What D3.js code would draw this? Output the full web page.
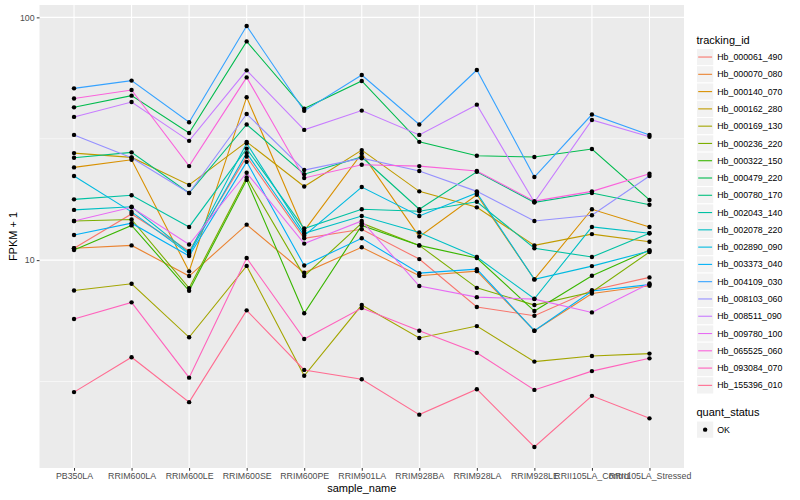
<!DOCTYPE html>
<html><head><meta charset="utf-8">
<script src="https://cdn.jsdelivr.net/npm/d3@7"></script>
<style>
body{margin:0;background:#fff}
svg{display:block}
text{font-family:"Liberation Sans",Arial,Helvetica,sans-serif}
</style>
</head><body>
<svg id="chart" width="800" height="500"></svg>
<script>
// ---- data ----
const categories = ["PB350LA","RRIM600LA","RRIM600LE","RRIM600SE","RRIM600PE","RRIM901LA","RRIM928BA","RRIM928LA","RRIM928LE","RRII105LA_Control","RRII105LA_Stressed"];
const trackingIds = ["Hb_000061_490","Hb_000070_080","Hb_000140_070","Hb_000162_280","Hb_000169_130","Hb_000236_220","Hb_000322_150","Hb_000479_220","Hb_000780_170","Hb_002043_140","Hb_002078_220","Hb_002890_090","Hb_003373_040","Hb_004109_030","Hb_008103_060","Hb_008511_090","Hb_009780_100","Hb_065525_060","Hb_093084_070","Hb_155396_010"];
const hb_000061_490 = [11.2, 15.5, 10.9, 26.7, 12.3, 13.4, 10.1, 6.41, 5.90, 7.52, 8.49];
const hb_000070_080 = [11.2, 11.5, 8.60, 14.0, 8.87, 11.3, 8.62, 9.01, 5.12, 7.29, 7.84];
const hb_000140_070 = [24.1, 25.9, 8.99, 46.9, 13.2, 27.5, 12.5, 18.6, 8.33, 16.2, 13.7];
const hb_000162_280 = [27.6, 26.5, 20.4, 30.7, 20.1, 28.4, 19.2, 16.5, 11.5, 12.8, 11.9];
const hb_000169_130 = [7.50, 7.99, 4.81, 9.47, 3.34, 6.53, 4.78, 5.35, 3.82, 4.03, 4.12];
const hb_000236_220 = [14.5, 14.7, 7.67, 21.9, 8.60, 14.2, 11.5, 7.69, 6.53, 7.39, 10.8];
const hb_000322_150 = [11.0, 13.9, 7.48, 21.4, 6.04, 13.9, 11.5, 10.2, 6.17, 8.62, 11.0];
const hb_000479_220 = [42.6, 47.6, 33.4, 79.6, 42.1, 54.7, 30.7, 26.9, 26.6, 28.7, 17.7];
const hb_000780_170 = [26.4, 27.8, 18.9, 36.2, 22.6, 26.6, 16.2, 23.1, 17.3, 18.9, 16.9];
const hb_002043_140 = [17.8, 18.5, 13.7, 28.8, 13.5, 16.2, 15.9, 17.4, 11.2, 10.3, 12.9];
const hb_002078_220 = [16.1, 16.6, 10.7, 30.3, 12.9, 15.2, 13.0, 10.3, 6.93, 13.7, 12.9];
const hb_002890_090 = [22.2, 15.8, 10.6, 27.6, 12.6, 20.0, 15.2, 18.9, 8.33, 9.45, 10.9];
const hb_003373_040 = [12.7, 14.2, 10.4, 25.4, 9.51, 12.3, 8.84, 9.18, 5.12, 7.46, 7.93];
const hb_004109_030 = [51.0, 54.9, 37.0, 92.1, 41.2, 57.9, 36.2, 60.7, 22.0, 39.8, 32.8];
const hb_008103_060 = [32.8, 26.4, 18.9, 40.0, 23.5, 26.3, 23.3, 19.2, 14.5, 15.3, 22.2];
const hb_008511_090 = [38.9, 44.8, 31.0, 60.5, 34.4, 41.3, 32.8, 43.7, 17.3, 37.8, 32.2];
const hb_009780_100 = [14.5, 16.5, 11.6, 22.9, 11.7, 14.5, 7.82, 7.04, 6.91, 6.09, 8.02];
const hb_065525_060 = [46.3, 50.2, 24.4, 56.6, 21.8, 24.7, 24.4, 23.3, 17.5, 19.2, 22.7];
const hb_093084_070 = [5.72, 6.70, 3.28, 10.2, 4.73, 6.35, 5.12, 4.15, 2.92, 3.49, 3.94];
const hb_155396_010 = [2.86, 3.98, 2.60, 6.21, 3.53, 3.23, 2.31, 2.94, 1.70, 2.76, 2.23];
const seriesValues = [hb_000061_490, hb_000070_080, hb_000140_070, hb_000162_280, hb_000169_130, hb_000236_220, hb_000322_150, hb_000479_220, hb_000780_170, hb_002043_140, hb_002078_220, hb_002890_090, hb_003373_040, hb_004109_030, hb_008103_060, hb_008511_090, hb_009780_100, hb_065525_060, hb_093084_070, hb_155396_010];
const yTicks = [10, 100];
const yMinorTicks = [3.1623, 31.623];
const quantStatus = ["OK"];

// ---- style ----
const colors = ["#F8766D","#EA8331","#D89000","#C09B00","#A3A500","#7CAE00","#39B600","#00BB4E","#00BF7D","#00C1A3","#00BFC4","#00BAE0","#00B0F6","#35A2FF","#9590FF","#C77CFF","#E76BF3","#FA62DB","#FF62BC","#FF6C91"];
const P = {left: 39.5, right: 684, top: 5, bottom: 468};

const svg = d3.select("#chart");
const x = d3.scalePoint().domain(categories).range([P.left, P.right]).padding(0.6);
const all = seriesValues.flat();
const lmin = Math.log10(d3.min(all)), lmax = Math.log10(d3.max(all));
const pad = (lmax - lmin) * 0.05;
const y = d3.scaleLog().domain([Math.pow(10, lmin - pad), Math.pow(10, lmax + pad)]).range([P.bottom, P.top]);

// panel
svg.append("rect").attr("x", P.left).attr("y", P.top).attr("width", P.right - P.left).attr("height", P.bottom - P.top).attr("fill", "#EBEBEB");
const grid = svg.append("g");
grid.selectAll(".ymin").data(yMinorTicks).join("line")
  .attr("x1", P.left).attr("x2", P.right).attr("y1", d => y(d)).attr("y2", d => y(d))
  .attr("stroke", "#fff").attr("stroke-width", 0.55);
grid.selectAll(".ymaj").data(yTicks).join("line")
  .attr("x1", P.left).attr("x2", P.right).attr("y1", d => y(d)).attr("y2", d => y(d))
  .attr("stroke", "#fff").attr("stroke-width", 1.1);
grid.selectAll(".xmaj").data(categories).join("line")
  .attr("x1", d => x(d)).attr("x2", d => x(d)).attr("y1", P.top).attr("y2", P.bottom)
  .attr("stroke", "#fff").attr("stroke-width", 1.1);

// lines
const line = d3.line().x((d, j) => x(categories[j])).y(d => y(d));
svg.append("g").selectAll("path").data(seriesValues).join("path")
  .attr("d", d => line(d)).attr("fill", "none")
  .attr("stroke", (d, i) => colors[i]).attr("stroke-width", 1.1);

// points
const pts = [];
seriesValues.forEach(s => s.forEach((v, j) => pts.push({c: categories[j], v})));
svg.append("g").selectAll("circle").data(pts).join("circle")
  .attr("cx", d => x(d.c)).attr("cy", d => y(d.v)).attr("r", 2.2).attr("fill", "#000");

// axes
const ax = svg.append("g").attr("transform", `translate(0,${P.bottom})`)
  .call(d3.axisBottom(x).tickSize(2.75).tickPadding(2.2));
const ay = svg.append("g").attr("transform", `translate(${P.left},0)`)
  .call(d3.axisLeft(y).tickValues(yTicks).tickFormat(d3.format("d")).tickSize(2.75).tickPadding(2.2));
[ax, ay].forEach(a => {
  a.select(".domain").remove();
  a.selectAll(".tick line").attr("stroke", "#333333").attr("stroke-width", 1);
  a.selectAll(".tick text").attr("fill", "#4D4D4D").style("font-size", "8.8px")
    .style("font-family", '"Liberation Sans",Arial,sans-serif');
});

// axis titles
svg.append("text").attr("x", (P.left + P.right) / 2).attr("y", 492).attr("text-anchor", "middle")
  .style("font-size", "11px").attr("fill", "#000").text("sample_name");
svg.append("text").attr("transform", `translate(16.5,${(P.top + P.bottom) / 2}) rotate(-90)`)
  .attr("text-anchor", "middle").style("font-size", "11px").attr("fill", "#000").text("FPKM + 1");

// legend: tracking_id
const lg = svg.append("g");
const keyX = 696.5, keyS = 17.28, keyTop = 48.4;
lg.append("text").attr("x", keyX).attr("y", 44).style("font-size", "11px").attr("fill", "#000").text("tracking_id");
const items = lg.selectAll("g.item").data(trackingIds).join("g")
  .attr("transform", (d, i) => `translate(${keyX},${keyTop + i * keyS})`);
items.append("rect").attr("width", keyS).attr("height", keyS).attr("fill", "#F2F2F2").attr("stroke", "#fff").attr("stroke-width", 1);
items.append("line").attr("x1", 1.7).attr("x2", keyS - 1.7).attr("y1", keyS / 2).attr("y2", keyS / 2)
  .attr("stroke", (d, i) => colors[i]).attr("stroke-width", 1.1);
items.append("text").attr("x", keyS + 3.5).attr("y", keyS / 2 + 3.1).style("font-size", "8.8px").attr("fill", "#000").text(d => d);

// legend: quant_status
lg.append("text").attr("x", keyX).attr("y", 415.5).style("font-size", "11px").attr("fill", "#000").text("quant_status");
const q = lg.selectAll("g.q").data(quantStatus).join("g").attr("transform", (d, i) => `translate(${keyX},${421 + i * keyS})`);
q.append("rect").attr("width", keyS).attr("height", keyS).attr("fill", "#F2F2F2").attr("stroke", "#fff");
q.append("circle").attr("cx", keyS / 2).attr("cy", keyS / 2).attr("r", 2.2).attr("fill", "#000");
q.append("text").attr("x", keyS + 3.5).attr("y", keyS / 2 + 3.1).style("font-size", "8.8px").attr("fill", "#000").text(d => d);
</script>
</body></html>
